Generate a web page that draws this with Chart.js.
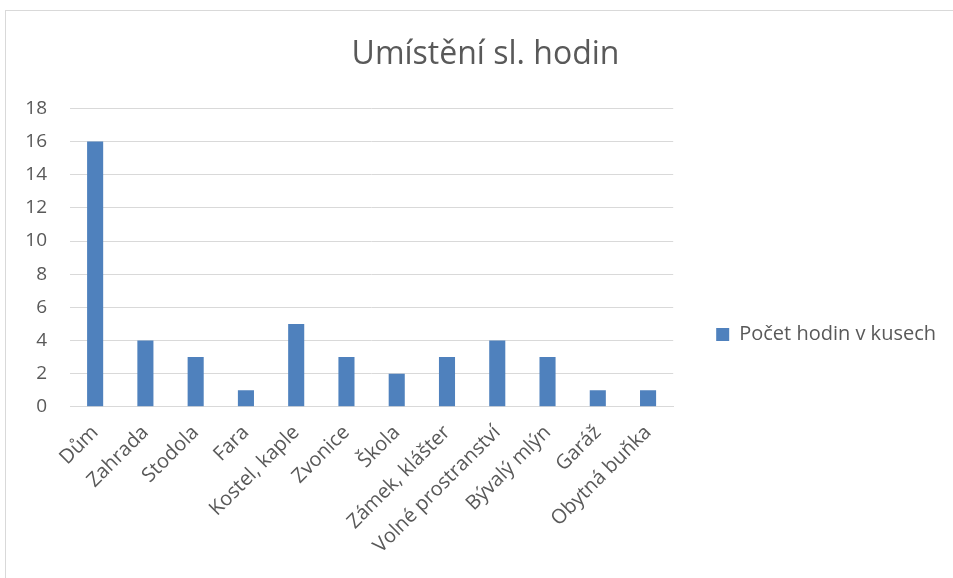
<!DOCTYPE html>
<html>
<head>
<meta charset="utf-8">
<script src="https://cdn.jsdelivr.net/npm/chart.js@4.4.1/dist/chart.umd.min.js"></script>
<style>
    body { margin: 0; background: #fff; }
    #box {
        position: absolute; left: 5px; top: 10px;
        width: 947px; height: 567px;
        border: 1px solid #d9d9d9;
    }
</style>
</head>
<body>
<div id="box"><canvas id="chart" width="947" height="567"></canvas></div>
<script>
const categories = ["Dům", "Zahrada", "Stodola", "Fara", "Kostel, kaple", "Zvonice", "Škola",
    "Zámek, klášter", "Volné prostranství", "Bývalý mlýn", "Garáž", "Obytná buňka"];
const counts = [16, 4, 3, 1, 5, 3, 2, 3, 4, 3, 1, 1];
const seriesName = "Počet hodin v kusech";
const chartTitle = "Umístění sl. hodin";

const textColor = "#595959";
const font = "'Open Sans', sans-serif";

new Chart(document.getElementById("chart").getContext("2d"), {
    type: "bar",
    data: {
        labels: categories,
        datasets: [{
            label: seriesName,
            data: counts,
            backgroundColor: "#4F81BD",
            barPercentage: 0.32,
            categoryPercentage: 1
        }]
    },
    options: {
        responsive: false,
        animation: false,
        layout: { padding: { left: 19, right: 7, top: 25, bottom: 14 } },
        plugins: {
            title: {
                display: true,
                text: chartTitle,
                color: textColor,
                font: { family: font, size: 32, weight: "normal" },
                padding: { top: 0, bottom: 34 }
            },
            legend: {
                position: "right",
                maxWidth: 300,
                // empty title only pushes the legend item down
                title: { display: true, text: " ", font: { size: 1 }, padding: { top: 68, bottom: 0 } },
                labels: {
                    color: textColor,
                    font: { family: font, size: 20 },
                    boxWidth: 13,
                    boxHeight: 13,
                    padding: 43
                }
            },
            tooltip: { enabled: false }
        },
        scales: {
            x: {
                grid: { display: false },
                border: { color: "#d9d9d9" },
                ticks: {
                    color: textColor,
                    font: { family: font, size: 20 },
                    minRotation: 45,
                    maxRotation: 45,
                    padding: 6
                },
                afterFit(scale) {
                    scale.paddingLeft = 0;
                    scale.paddingRight = 0;
                }
            },
            y: {
                min: 0,
                max: 18,
                grid: { color: "#d9d9d9", drawTicks: false },
                border: { display: false },
                ticks: {
                    stepSize: 2,
                    color: textColor,
                    font: { family: font, size: 19 },
                    padding: 23
                },
                afterFit(scale) {
                    scale.width = 45;
                }
            }
        }
    }
});
</script>
</body>
</html>
